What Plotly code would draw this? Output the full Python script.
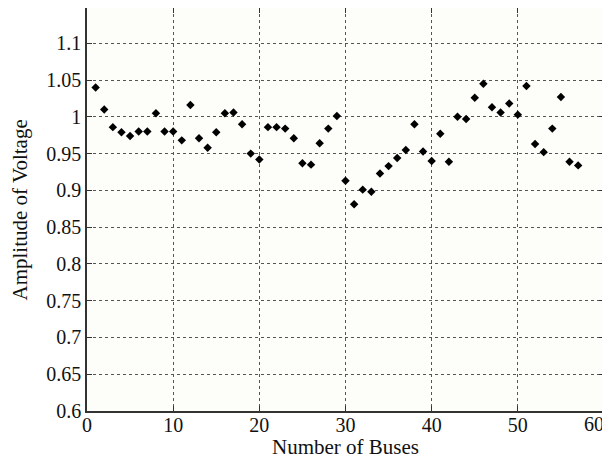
import plotly.graph_objects as go

buses = list(range(1, 58))
voltage = [1.040, 1.010, 0.986, 0.979, 0.974, 0.980, 0.980, 1.005, 0.980, 0.980,
           0.968, 1.016, 0.971, 0.958, 0.979, 1.005, 1.006, 0.990, 0.950, 0.942,
           0.986, 0.986, 0.984, 0.971, 0.937, 0.935, 0.964, 0.984, 1.001, 0.913,
           0.881, 0.901, 0.898, 0.923, 0.933, 0.944, 0.955, 0.990, 0.953, 0.940,
           0.977, 0.939, 1.000, 0.997, 1.026, 1.045, 1.013, 1.006, 1.018, 1.003,
           1.042, 0.963, 0.952, 0.984, 1.027, 0.939, 0.934]

xticks = [0, 10, 20, 30, 40, 50, 60]
xtick_labels = ["0", "10", "20", "30", "40", "50", "60"]
yticks = [0.6, 0.65, 0.7, 0.75, 0.8, 0.85, 0.9, 0.95, 1.0, 1.05, 1.1]
ytick_labels = ["0.6", "0.65", "0.7", "0.75", "0.8", "0.85", "0.9", "0.95", "1", "1.05", "1.1"]

fig = go.Figure()
fig.add_trace(go.Scatter(
    x=buses, y=voltage, mode="markers",
    marker=dict(symbol="diamond", size=6.5, color="black"),
    showlegend=False,
))

family = "Liberation Serif, Times New Roman, serif"
tickfont = dict(family=family, size=20, color="#111")
titlefont = dict(family=family, size=21, color="#111")
axis_common = dict(
    showline=True, linecolor="#333", linewidth=1.5, mirror="ticks",
    ticks="inside", ticklen=5, tickcolor="#333",
    showgrid=True, gridcolor="#555", griddash="dot", gridwidth=1,
    zeroline=False, tickfont=tickfont, automargin=False,
)

# main x axis: all ticks, labels for all but the last (edge) one
main_text = xtick_labels[:-1] + [""]

# The page body adds an 8px offset, so the figure is sized to fill the window from there.
fig.update_layout(
    width=602, height=452,
    margin=dict(l=79, r=6, t=0, b=49),
    paper_bgcolor="white", plot_bgcolor="#fdfdfa",
    font=tickfont,
    xaxis=dict(range=[0, 60], tickvals=xticks, ticktext=main_text,
               ticklabelstandoff=-5, **axis_common),
    # overlay axis carrying only the edge label, nudged inward like the reference
    xaxis2=dict(range=[0, 60], overlaying="x", side="bottom",
                tickvals=xticks[-1:], ticktext=xtick_labels[-1:],
                ticklabelshift=-10, ticklabelstandoff=-1, ticks="",
                showline=False, showgrid=False, zeroline=False,
                tickfont=tickfont, automargin=False),
    yaxis=dict(range=[0.6, 1.148], tickvals=yticks, ticktext=ytick_labels,
               **axis_common),
    annotations=[
        dict(text="Number of Buses", xref="paper", yref="paper", x=0.5, y=-0.09,
             showarrow=False, font=titlefont, yanchor="middle", xanchor="center"),
        dict(text="Amplitude of Voltage", xref="paper", yref="paper", x=-0.1296, y=0.5,
             showarrow=False, font=titlefont, textangle=-90,
             xanchor="center", yanchor="middle"),
    ],
)
# invisible helper trace so the overlay axis is drawn
fig.add_trace(go.Scatter(x=[None], y=[None], xaxis="x2", showlegend=False, hoverinfo="skip"))

fig.write_html("out.html")
